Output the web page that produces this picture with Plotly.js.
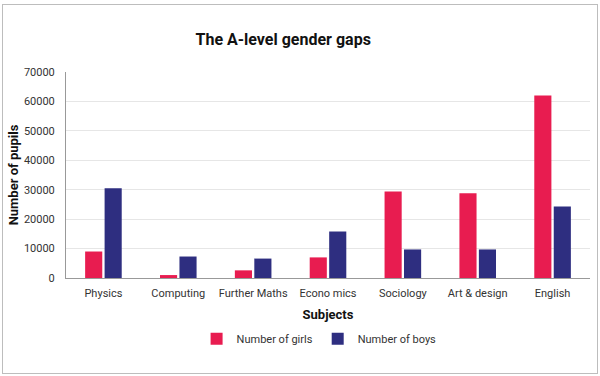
<!DOCTYPE html>
<html>
<head>
<meta charset="utf-8">
<script src="https://cdn.plot.ly/plotly-3.0.1.min.js"></script>
<style>
html,body{margin:0;padding:0;background:#fff;}
#chart{width:600px;height:376px;position:absolute;left:0;top:0;}
#frame{position:absolute;left:2px;top:4px;width:594px;height:368px;border:1px solid #bdbdbd;pointer-events:none;}
</style>
</head>
<body>
<div id="chart"></div>
<div id="frame"></div>
<script>
const subjects = ["Physics", "Computing", "Further Maths", "Econo mics", "Sociology", "Art & design", "English"];
const girls = [9000, 1000, 2600, 7000, 29400, 28800, 62000];
const boys = [30500, 7300, 6600, 15800, 9700, 9700, 24300];
const yTicks = [0, 10000, 20000, 30000, 40000, 50000, 60000, 70000];

const traces = [
  {type: "bar", name: "Number of girls", x: subjects, y: girls, marker: {color: "#E81C50"}},
  {type: "bar", name: "Number of boys", x: subjects, y: boys, marker: {color: "#2E2E80"}}
];

const layout = {
  width: 600, height: 376,
  margin: {l: 66, r: 10, t: 72, b: 98},
  paper_bgcolor: "#fff", plot_bgcolor: "#fff",
  font: {family: "Roboto, sans-serif", size: 11, color: "#333"},
  title: {text: "<b>The A-level gender gaps</b>", font: {size: 16, color: "#111", family: "Roboto, sans-serif"},
          x: 0.472, xanchor: "center", y: 0.896, yanchor: "middle"},
  bargap: 0.48, bargroupgap: 0.12,
  showlegend: true,
  legend: {orientation: "h", x: 0.483, xanchor: "center", y: -0.295, yanchor: "middle",
           font: {size: 11, color: "#333"}, itemwidth: 30, traceorder: "normal"},
  xaxis: {
    type: "category",
    showline: true, linecolor: "#999", linewidth: 1,
    ticks: "", ticklabelstandoff: 5, tickfont: {size: 11, color: "#333"},
    title: {text: "<b>Subjects</b>", font: {size: 13, color: "#111"}, standoff: 10},
    automargin: false
  },
  yaxis: {
    range: [0, 70000], tickvals: yTicks, ticktext: yTicks.map(String),
    showgrid: true, gridcolor: "#e6e6e6", gridwidth: 1,
    showline: true, linecolor: "#999", linewidth: 1,
    zeroline: false,
    ticks: "", ticklabelstandoff: 8, tickfont: {size: 11, color: "#333"},
    title: {text: "<b>Number of pupils</b>", font: {size: 13, color: "#111"}, standoff: 2},
    automargin: false
  }
};

Plotly.newPlot("chart", traces, layout, {displayModeBar: false, staticPlot: true});
</script>
</body>
</html>
